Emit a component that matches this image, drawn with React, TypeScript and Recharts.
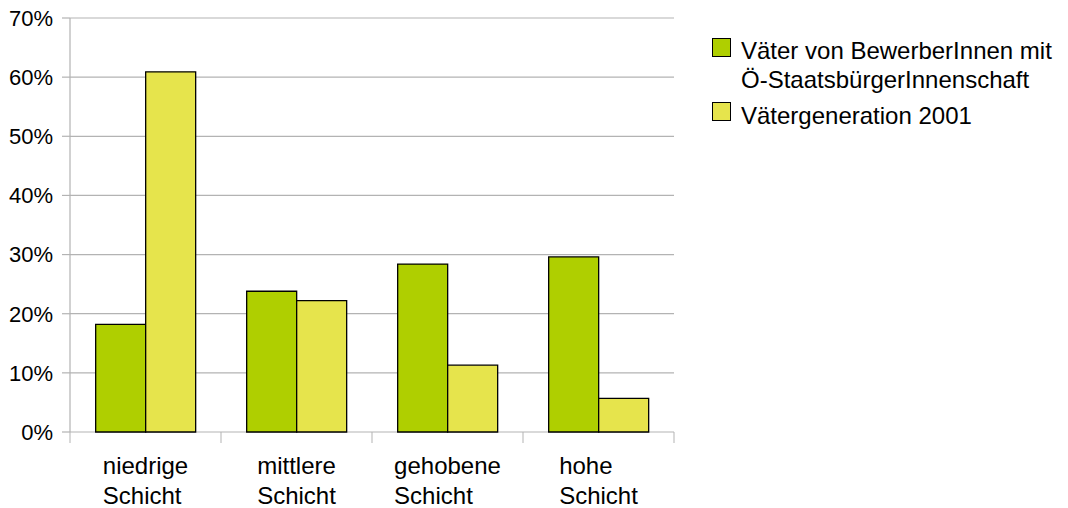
import React from "react";
import { BarChart, Bar, XAxis, YAxis, CartesianGrid } from "recharts";

const categories = ["niedrige\nSchicht", "mittlere\nSchicht", "gehobene\nSchicht", "hohe\nSchicht"];
const vaeterBewerber = [18.2, 23.8, 28.4, 29.6];
const vaetergeneration = [60.9, 22.2, 11.3, 5.7];
const yTicks = [0, 10, 20, 30, 40, 50, 60, 70];

const series = [
    { key: "bewerber", name: "Väter von BewerberInnen mit\nÖ-StaatsbürgerInnenschaft", color: "#afcf00" },
    { key: "generation", name: "Vätergeneration 2001", color: "#e6e44c" },
];

const data = categories.map((c, i) => ({
    cat: c,
    bewerber: vaeterBewerber[i],
    generation: vaetergeneration[i],
}));

const W = 1068;
const H = 508;
const FONT = "'Liberation Sans', Arial, sans-serif";
const FONT_SIZE = 24;
const GRID = "#b3b3b3";
const margin = { top: 18, right: 394, bottom: 6, left: 0 };
const Y_WIDTH = 70;
const BAND = (W - margin.right - margin.left - Y_WIDTH) / categories.length;

let ctx: CanvasRenderingContext2D | null = null;
const measure = (s: string) => {
    if (!ctx) ctx = document.createElement("canvas").getContext("2d");
    if (!ctx) return s.length * FONT_SIZE * 0.5;
    ctx.font = `${FONT_SIZE}px ${FONT}`;
    return ctx.measureText(s).width;
};

const CategoryTick = (props: any) => {
    const { x, y, payload, index } = props;
    const lines = String(payload.value).split("\n");
    const w = Math.max(...lines.map(measure));
    const left = x - BAND / 2;
    return (
        <g>
            <line x1={left} x2={left} y1={y} y2={y + 11} stroke={GRID} />
            {index === categories.length - 1 && (
                <line x1={x + BAND / 2} x2={x + BAND / 2} y1={y} y2={y + 11} stroke={GRID} />
            )}
            <text x={x - w / 2} y={y + 42} textAnchor="start" fill="#000" fontSize={FONT_SIZE} fontFamily={FONT}>
                {lines.map((l, i) => (
                    <tspan key={i} x={x - w / 2} dy={i === 0 ? 0 : 29.5}>{l}</tspan>
                ))}
            </text>
        </g>
    );
};

export default function App() {
    return (
        <div style={{ position: "absolute", left: 0, top: 0, width: W, height: H, background: "#fff" }}>
            <BarChart width={W} height={H} data={data} margin={margin} barGap={0} barCategoryGap="17%">
                <CartesianGrid vertical={false} stroke={GRID} strokeWidth={1.2} />
                <XAxis
                    dataKey="cat"
                    height={70}
                    axisLine={false}
                    tickLine={false}
                    tickSize={0}
                    tickMargin={0}
                    interval={0}
                    tick={<CategoryTick />}
                />
                <YAxis
                    width={Y_WIDTH}
                    domain={[0, 70]}
                    ticks={yTicks}
                    tickFormatter={(v) => `${v}%`}
                    axisLine={{ stroke: GRID, strokeWidth: 1.2 }}
                    tickLine={{ stroke: GRID, strokeWidth: 1.2 }}
                    tickSize={8}
                    tickMargin={9}
                    tick={{ fill: "#000", fontSize: 22, fontFamily: FONT }}
                />
                <YAxis
                    yAxisId="right"
                    orientation="right"
                    width={0}
                    tick={false}
                    tickLine={false}
                    axisLine={{ stroke: GRID, strokeWidth: 1.2 }}
                />
                {series.map((s) => (
                    <Bar
                        key={s.key}
                        dataKey={s.key}
                        name={s.name}
                        fill={s.color}
                        stroke="#000"
                        strokeWidth={1.3}
                        isAnimationActive={false}
                    />
                ))}
            </BarChart>
            <div style={{ position: "absolute", left: 712, top: 36, fontFamily: FONT, fontSize: FONT_SIZE, color: "#000" }}>
                {series.map((s, i) => (
                    <div key={s.key} style={{ display: "flex", alignItems: "flex-start", marginTop: i === 0 ? 0 : 6.6 }}>
                        <div style={{ boxSizing: "border-box", width: 19, height: 19, background: s.color, border: "1.3px solid #000", marginTop: 1.5, flexShrink: 0 }} />
                        <div style={{ marginLeft: 10, lineHeight: "29px", whiteSpace: "pre" }}>{s.name}</div>
                    </div>
                ))}
            </div>
        </div>
    );
}
